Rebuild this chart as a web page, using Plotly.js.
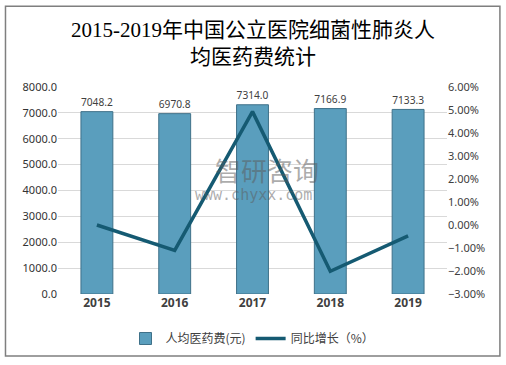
<!DOCTYPE html>
<html>
<head>
<meta charset="utf-8">
<script src="https://cdn.plot.ly/plotly-3.0.1.min.js"></script>
<style>
html,body{margin:0;padding:0;background:#fff;}
#chart{width:506px;height:365px;}
</style>
</head>
<body>
<div id="chart"></div>
<script>
var years = ['2015', '2016', '2017', '2018', '2019'];
var costs = [7048.2, 6970.8, 7314.0, 7166.9, 7133.3];
var growth = [0.0, -1.10, 4.93, -2.01, -0.47];
var costLabels = ['7048.2', '6970.8', '7314.0', '7166.9', '7133.3'];

var barTrace = {
  type: 'bar',
  name: '人均医药费(元)',
  x: years,
  y: costs,
  text: costLabels,
  textposition: 'outside',
  cliponaxis: false,
  textfont: {family: 'Noto Sans, Noto Sans CJK SC, sans-serif', size: 11, color: '#404040'},
  marker: {color: '#5a9ebd', line: {color: '#3f7189', width: 1}},
  width: 0.41,
  yaxis: 'y'
};
var lineTrace = {
  type: 'scatter',
  mode: 'lines',
  name: '同比增长（%）',
  x: years,
  y: growth,
  line: {color: '#155a72', width: 3.5},
  yaxis: 'y2'
};

var layout = {
  width: 506,
  height: 365,
  margin: {l: 58, r: 59, t: 87, b: 68},
  paper_bgcolor: '#ffffff',
  plot_bgcolor: '#ffffff',
  showlegend: true,
  title: {
    text: '2015-2019年中国公立医院细菌性肺炎人<br>均医药费统计',
    x: 0.5, xanchor: 'center',
    y: 0.9, yanchor: 'top', yref: 'container',
    font: {family: 'Liberation Serif, Noto Sans CJK SC, serif', size: 21, color: '#000000'}
  },
  xaxis: {
    type: 'category',
    tickfont: {family: 'Noto Sans, sans-serif', size: 12, color: '#404040', weight: 'bold'},
    showline: false,
    ticks: '',
    showgrid: false,
    zeroline: false
  },
  yaxis: {
    range: [0, 8000],
    dtick: 1000,
    tickformat: '.1f',
    tickfont: {family: 'Noto Sans, sans-serif', size: 11, color: '#333333'},
    gridcolor: '#d9d9d9',
    gridwidth: 1,
    zeroline: false,
    showline: false,
    ticks: ''
  },
  yaxis2: {
    overlaying: 'y',
    side: 'right',
    range: [-3, 6],
    dtick: 1,
    tickformat: '.2f',
    ticksuffix: '%',
    tickfont: {family: 'Noto Sans, sans-serif', size: 11, color: '#404040'},
    showgrid: false,
    zeroline: false,
    showline: false,
    ticks: ''
  },
  legend: {
    orientation: 'h',
    x: 0.5, xanchor: 'center',
    y: -0.215, yanchor: 'middle',
    font: {family: 'Noto Sans CJK SC, sans-serif', size: 12, color: '#404040'},
    itemwidth: 30
  },
  annotations: [
    {text: '智研咨询', xref: 'paper', yref: 'paper', x: 0.537, y: 0.6, xanchor: 'center', yanchor: 'middle', showarrow: false,
     font: {family: 'Noto Sans CJK SC, sans-serif', size: 26, color: 'rgba(90,90,90,0.5)'}},
    {text: 'www.chyxx.com', xref: 'paper', yref: 'paper', x: 0.503, y: 0.48, xanchor: 'center', yanchor: 'middle', showarrow: false,
     font: {family: 'DejaVu Sans Mono, monospace', size: 15, color: 'rgba(90,90,90,0.5)'}}
  ],
  shapes: [
    {type: 'rect', xref: 'paper', yref: 'paper', x0: -0.135, x1: 1.136, y0: -0.3, y1: 1.39, line: {color: '#7f7f7f', width: 1.5}, fillcolor: 'rgba(0,0,0,0)', layer: 'below'}
  ]
};

Plotly.newPlot('chart', [barTrace, lineTrace], layout, {displayModeBar: false, staticPlot: true});
</script>
</body>
</html>
